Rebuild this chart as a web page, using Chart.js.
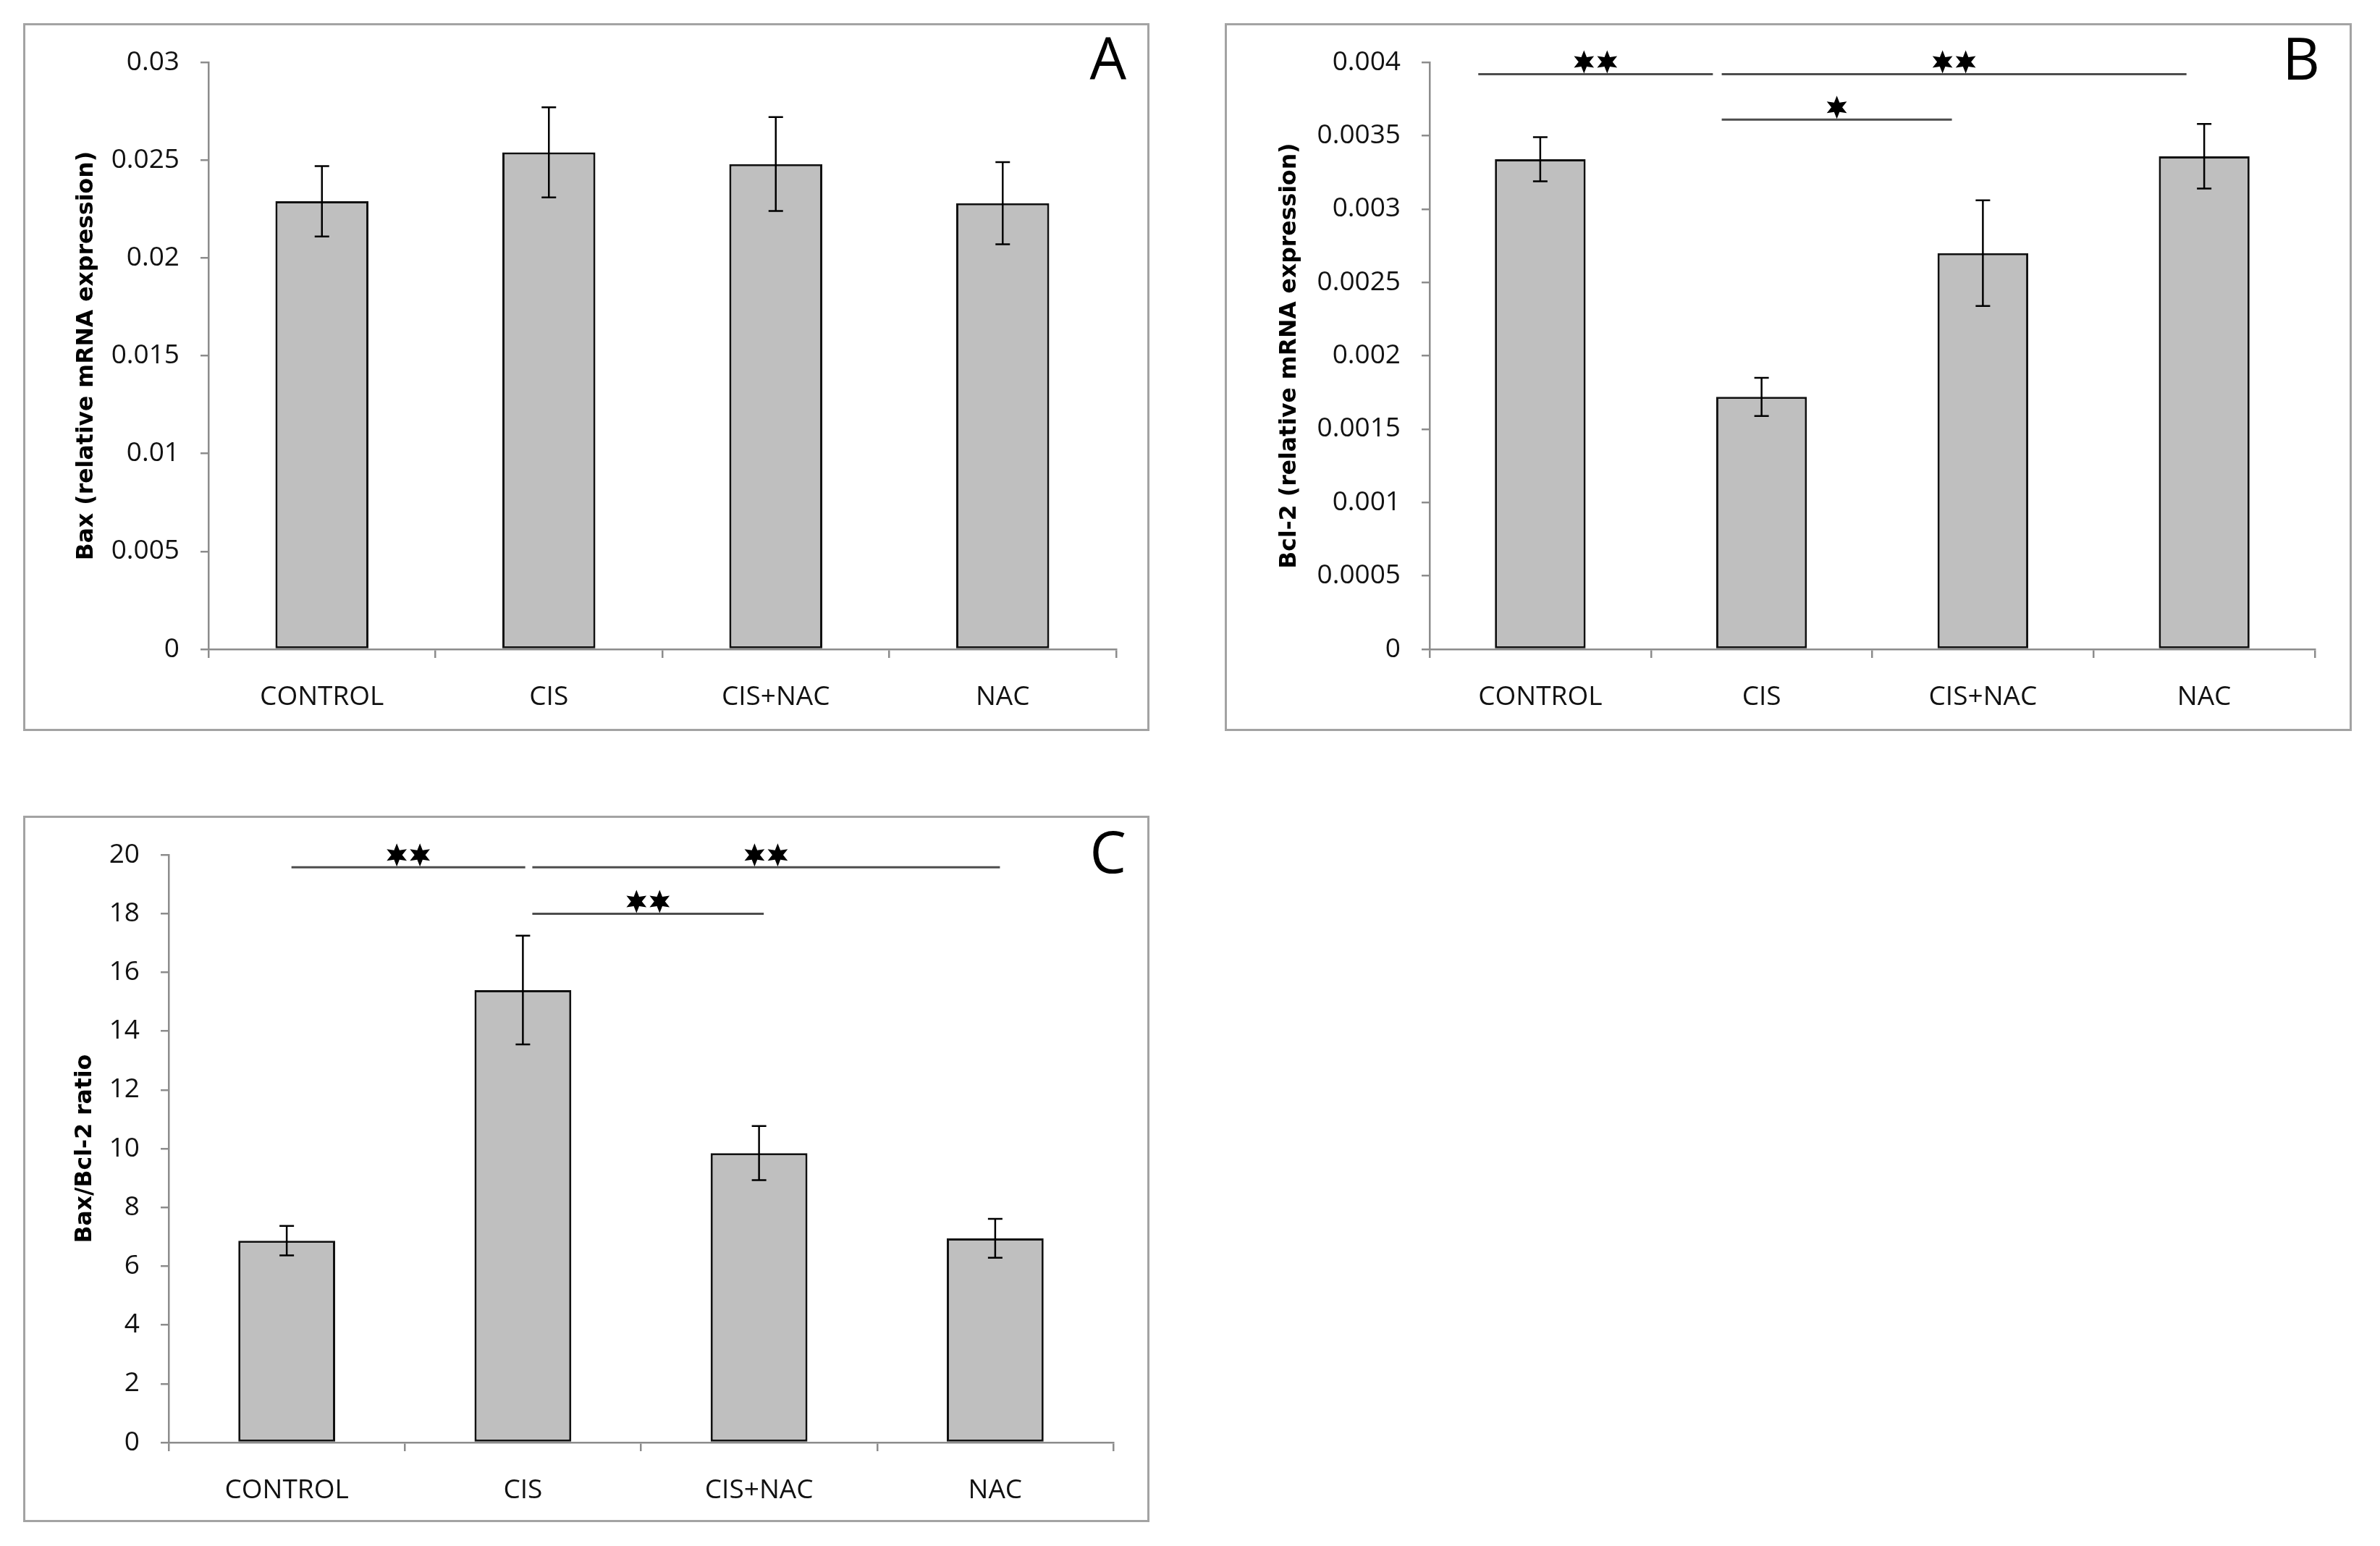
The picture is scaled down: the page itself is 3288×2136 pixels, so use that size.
<!DOCTYPE html>
<html>
<head>
<meta charset="utf-8">
<script src="https://cdn.jsdelivr.net/npm/chart.js@4.4.1/dist/chart.umd.min.js"></script>
<style>
  html, body { margin: 0; padding: 0; background: #fff; }
  body { width: 3288px; height: 2136px; position: relative; overflow: hidden; }
  .panel { position: absolute; box-sizing: border-box; border: 3px solid #a3a3a3; background: #fff; }
  .panel canvas { display: block; }
</style>
</head>
<body>
<div class="panel" style="left:32px;top:32px;width:1556px;height:978px"><canvas id="chartA"></canvas></div>
<div class="panel" style="left:1692px;top:32px;width:1557px;height:978px"><canvas id="chartB"></canvas></div>
<div class="panel" style="left:32px;top:1127px;width:1556px;height:976px"><canvas id="chartC"></canvas></div>
<script>
// grupos del experimento
const groups = ['CONTROL', 'CIS', 'CIS+NAC', 'NAC'];

// A: Bax (relative mRNA expression)
const baxMean = [0.0229, 0.0254, 0.0248, 0.0228];
const baxErr  = [0.0018, 0.0023, 0.0024, 0.0021];

// B: Bcl-2 (relative mRNA expression)
const bcl2Mean = [0.00334, 0.00172, 0.00270, 0.00336];
const bcl2Err  = [0.00015, 0.00013, 0.00036, 0.00022];

// C: Bax/Bcl-2 ratio
const ratioMean = [6.87, 15.4, 9.85, 6.95];
const ratioErr  = [0.50, 1.85, 0.92, 0.66];

// significance brackets (from/to in category index, y in axis units)
const bcl2Sig = [
  { from: -0.28, to: 0.78, y: 0.00392, stars: 2 },
  { from: 0.82, to: 2.92, y: 0.00392, stars: 2 },
  { from: 0.82, to: 1.86, y: 0.00361, stars: 1 }
];
const ratioSig = [
  { from: 0.02, to: 1.01, y: 19.58, stars: 2 },
  { from: 1.04, to: 3.02, y: 19.58, stars: 2 },
  { from: 1.04, to: 2.02, y: 18.0, stars: 2 }
];

const axisGray = '#8c8c8c';
const tickFont = { family: "'Open Sans', sans-serif", size: 37 };

// six pointed star used as significance mark
function drawStar(ctx, cx, cy, R, r) {
  ctx.beginPath();
  for (let k = 0; k < 12; k++) {
    const a = -Math.PI / 2 + k * Math.PI / 6;
    const rad = k % 2 === 0 ? R : r;
    const px = cx + rad * Math.cos(a), py = cy + rad * Math.sin(a);
    if (k === 0) ctx.moveTo(px, py); else ctx.lineTo(px, py);
  }
  ctx.closePath();
  ctx.fill();
}

// error bars, significance lines and the panel letter
const extras = {
  id: 'extras',
  afterDatasetsDraw(chart, args, opts) {
    const { ctx } = chart;
    const x = chart.scales.x, y = chart.scales.y;
    const meta = chart.getDatasetMeta(0);
    const values = chart.data.datasets[0].data;
    ctx.save();
    ctx.strokeStyle = '#000';
    ctx.lineWidth = 2.5;
    opts.err.forEach((e, i) => {
      const cx = meta.data[i].x;
      const top = y.getPixelForValue(values[i] + e);
      const bot = y.getPixelForValue(values[i] - e);
      ctx.beginPath();
      ctx.moveTo(cx, top); ctx.lineTo(cx, bot);
      ctx.moveTo(cx - 10, top); ctx.lineTo(cx + 10, top);
      ctx.moveTo(cx - 10, bot); ctx.lineTo(cx + 10, bot);
      ctx.stroke();
    });
    opts.sig.forEach(s => {
      const x1 = x.getPixelForValue(s.from);
      const x2 = x.getPixelForValue(s.to);
      const yy = y.getPixelForValue(s.y);
      ctx.strokeStyle = '#4d4d4d';
      ctx.lineWidth = 3;
      ctx.beginPath();
      ctx.moveTo(x1, yy); ctx.lineTo(x2, yy);
      ctx.stroke();
      ctx.fillStyle = '#000';
      const mid = (x1 + x2) / 2;
      for (let k = 0; k < s.stars; k++) {
        const sx = mid + (k - (s.stars - 1) / 2) * 32;
        drawStar(ctx, sx, yy - 17, 16, 7.5);
      }
    });
    ctx.fillStyle = '#000';
    ctx.font = "80px 'Open Sans'";
    ctx.textAlign = 'right';
    ctx.textBaseline = 'alphabetic';
    ctx.fillText(opts.letter, opts.letterX, opts.letterY);
    ctx.restore();
  }
};

function crearGrafico(canvasid, valores, errores, o) {
  return new Chart(document.getElementById(canvasid), {
    type: 'bar',
    data: {
      labels: groups,
      datasets: [{
        data: valores,
        backgroundColor: '#bfbfbf',
        borderColor: '#111',
        borderWidth: 3,
        borderSkipped: false,
        barPercentage: 0.41,
        categoryPercentage: 1
      }]
    },
    options: {
      responsive: true,
      maintainAspectRatio: false,
      animation: false,
      layout: { padding: { top: o.top, right: o.right, left: 0, bottom: 0 } },
      plugins: {
        legend: { display: false },
        tooltip: { enabled: false },
        extras: { err: errores, sig: o.sig, letter: o.letter, letterX: o.letterX, letterY: o.letterY }
      },
      scales: {
        x: {
          offset: true,
          grid: { offset: true, drawOnChartArea: false, color: axisGray, lineWidth: 2.5, tickLength: 12 },
          border: { color: axisGray, width: 2.5 },
          ticks: { font: tickFont, color: '#111', padding: 32, maxRotation: 0, autoSkip: false },
          afterFit: s => { s.height = o.xh; }
        },
        y: {
          min: 0,
          max: o.max,
          ticks: {
            stepSize: o.step,
            font: tickFont,
            color: '#111',
            padding: 29,
            callback: v => String(+v.toFixed(6))
          },
          grid: { drawOnChartArea: false, color: axisGray, lineWidth: 2.5, tickLength: 11 },
          border: { color: axisGray, width: 2.5 },
          title: {
            display: true,
            text: o.title,
            color: '#000',
            font: { family: "'DejaVu Sans'", weight: 'bold', size: 31.5 },
            padding: { top: o.tp, bottom: 0 }
          },
          afterFit: s => { s.width = o.yw; }
        }
      }
    },
    plugins: [extras]
  });
}

crearGrafico('chartA', baxMean, baxErr, {
  title: 'Bax (relative mRNA expression)', max: 0.03, step: 0.005,
  top: 45, right: 43, yw: 253, xh: 110, tp: 66, sig: [],
  letter: 'A', letterX: 1521, letterY: 74
});
crearGrafico('chartB', bcl2Mean, bcl2Err, {
  title: 'Bcl-2 (relative mRNA expression)', max: 0.004, step: 0.0005,
  top: 45, right: 48, yw: 280, xh: 110, tp: 68, sig: bcl2Sig,
  letter: 'B', letterX: 1510, letterY: 75
});
crearGrafico('chartC', ratioMean, ratioErr, {
  title: 'Bax/Bcl-2 ratio', max: 20, step: 2,
  top: 48, right: 47, yw: 198, xh: 107, tp: 64, sig: ratioSig,
  letter: 'C', letterX: 1521, letterY: 76
});
</script>
</body>
</html>
